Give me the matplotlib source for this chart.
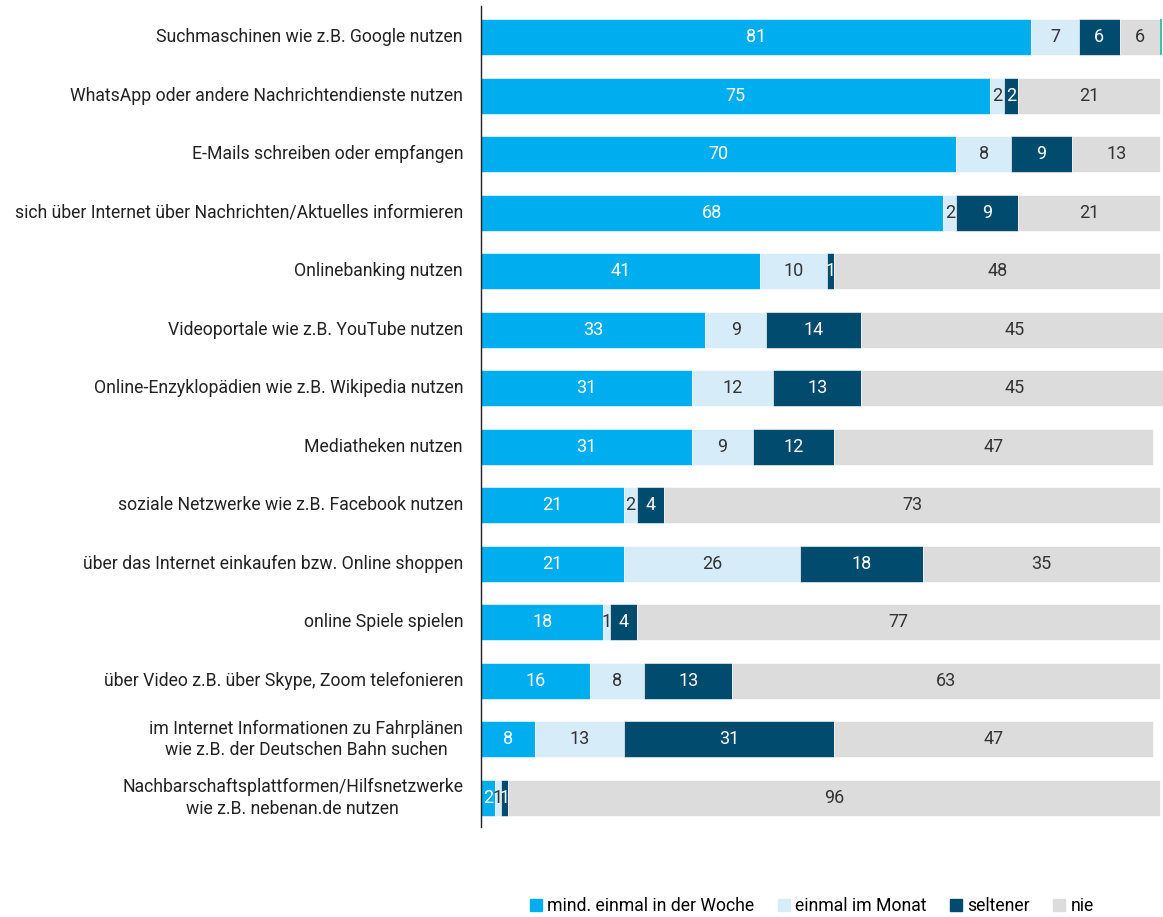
import numpy as np
import matplotlib.pyplot as plt
from matplotlib.patches import Patch

plt.rcParams['font.family'] = ['Roboto', 'DejaVu Sans']

categories = [
    'Suchmaschinen wie z.B. Google nutzen',
    'WhatsApp oder andere Nachrichtendienste nutzen',
    'E-Mails schreiben oder empfangen',
    'sich über Internet über Nachrichten/Aktuelles informieren',
    'Onlinebanking nutzen',
    'Videoportale wie z.B. YouTube nutzen',
    'Online-Enzyklopädien wie z.B. Wikipedia nutzen',
    'Mediatheken nutzen',
    'soziale Netzwerke wie z.B. Facebook nutzen',
    'über das Internet einkaufen bzw. Online shoppen',
    'online Spiele spielen',
    'über Video z.B. über Skype, Zoom telefonieren',
    'im Internet Informationen zu Fahrplänen\nwie z.B. der Deutschen Bahn suchen',
    'Nachbarschaftsplattformen/Hilfsnetzwerke\nwie z.B. nebenan.de nutzen',
]

woche = [81, 75, 70, 68, 41, 33, 31, 31, 21, 21, 18, 16, 8, 2]
monat = [7, 2, 8, 2, 10, 9, 12, 9, 2, 26, 1, 8, 13, 1]
seltener = [6, 2, 9, 9, 1, 14, 13, 12, 4, 18, 4, 13, 31, 1]
nie = [6, 21, 13, 21, 48, 45, 45, 47, 73, 35, 77, 63, 47, 96]
keine_angabe = [0.3, 0, 0, 0, 0, 0, 0, 0, 0, 0, 0, 0, 0, 0]

series = [
    ('mind. einmal in der Woche', woche, '#00aeef', 'white'),
    ('einmal im Monat', monat, '#d6ecf9', '#333333'),
    ('seltener', seltener, '#004b6e', 'white'),
    ('nie', nie, '#dcdcdd', '#333333'),
]

fig = plt.figure(figsize=(11.63, 9.17), dpi=100)
ax = fig.add_axes([481 / 1163, 1 - 827 / 917, (1163 - 481) / 1163, (827 - 6) / 917])

y = np.arange(len(categories))
left = np.zeros(len(categories))
for name, vals, color, tcolor in series:
    vals = np.array(vals, dtype=float)
    ax.barh(y, vals, left=left, height=0.615, color=color, edgecolor='white',
            linewidth=0.4, label=name)
    for yi, (l, v) in enumerate(zip(left, vals)):
        ax.text(l + v / 2, yi, f'{int(v)}', ha='center', va='center',
                fontsize=13, color=tcolor)
    left += vals

ax.barh(y, keine_angabe, left=left, height=0.615, color='#3cc0b0')

ax.set_xlim(0, 100.4)
ax.set_ylim(13.5, -0.53)
ax.set_yticks([])
ax.set_xticks([])
for yi, cat in zip(y, categories):
    ax.text(-18 / 682, yi, cat, transform=ax.get_yaxis_transform(), ha='right',
            va='center', multialignment='center', fontsize=12.7, color='#222222',
            linespacing=1.25)
for s in ['top', 'right', 'bottom']:
    ax.spines[s].set_visible(False)
ax.spines['left'].set_color('#222222')
ax.spines['left'].set_linewidth(1)

handles = [Patch(color=c, label=n) for n, _, c, _ in series]
fig.legend(handles=handles, loc='center', bbox_to_anchor=(0.698, 1 - 906 / 917), ncol=4,
           frameon=False, fontsize=12.7, handlelength=0.7, handleheight=0.7,
           handletextpad=0.3, columnspacing=1.3)

fig.savefig('out.png', dpi=100)
